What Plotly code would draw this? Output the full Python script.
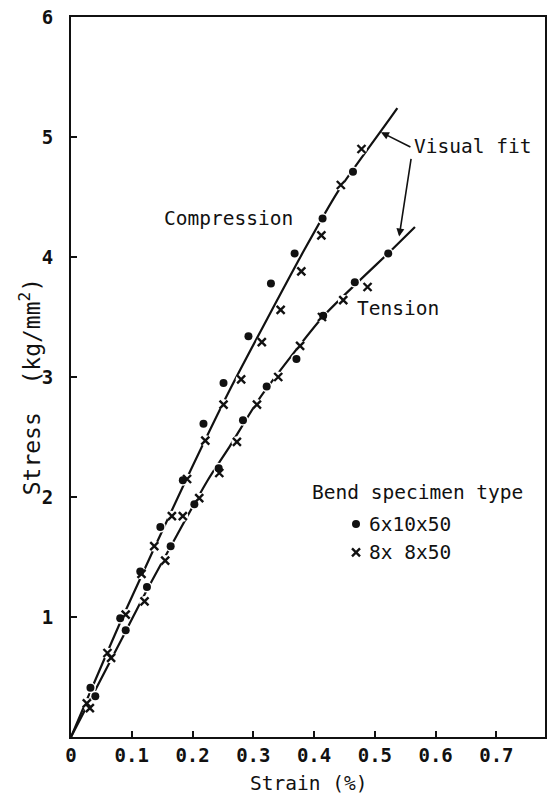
import plotly.graph_objects as go

# ---- Measured data: strain (%) vs stress (kg/mm^2) ----
# 6x10x50 bend specimens (dots)
dot_comp_strain = [0.032, 0.081, 0.114, 0.147, 0.184, 0.218, 0.251, 0.292, 0.329, 0.368, 0.414, 0.464]
dot_comp_stress = [0.41, 0.99, 1.38, 1.75, 2.14, 2.61, 2.95, 3.34, 3.78, 4.03, 4.32, 4.71]
dot_tens_strain = [0.040, 0.090, 0.125, 0.164, 0.203, 0.243, 0.283, 0.322, 0.371, 0.415, 0.467, 0.522]
dot_tens_stress = [0.34, 0.89, 1.25, 1.59, 1.94, 2.24, 2.64, 2.92, 3.15, 3.51, 3.79, 4.03]

# 8x8x50 bend specimens (crosses)
x_comp_strain = [0.026, 0.060, 0.090, 0.116, 0.137, 0.166, 0.191, 0.221, 0.251, 0.280, 0.314, 0.345, 0.379, 0.412, 0.444, 0.478]
x_comp_stress = [0.28, 0.70, 1.02, 1.36, 1.59, 1.84, 2.15, 2.47, 2.77, 2.98, 3.29, 3.56, 3.88, 4.18, 4.60, 4.90]
x_tens_strain = [0.031, 0.066, 0.121, 0.155, 0.184, 0.211, 0.244, 0.273, 0.306, 0.341, 0.377, 0.413, 0.448, 0.488]
x_tens_stress = [0.24, 0.66, 1.13, 1.47, 1.84, 1.99, 2.20, 2.46, 2.77, 3.00, 3.26, 3.50, 3.64, 3.75]

# Visual-fit curves
comp_fit_strain = [0.0, 0.085, 0.19, 0.261, 0.384, 0.441, 0.523, 0.537]
comp_fit_stress = [0.0, 1.00, 2.15, 2.89, 4.06, 4.56, 5.14, 5.24]
tens_fit_strain = [0.0, 0.091, 0.125, 0.225, 0.261, 0.31, 0.416, 0.528, 0.566]
tens_fit_stress = [0.0, 0.89, 1.225, 2.14, 2.42, 2.82, 3.51, 4.06, 4.25]

x_tick_vals = [0, 0.1, 0.2, 0.3, 0.4, 0.5, 0.6, 0.7]
x_tick_text = ["0", "0.1", "0.2", "0.3", "0.4", "0.5", "0.6", "0.7"]
y_tick_vals = [1, 2, 3, 4, 5, 6]
y_tick_text = ["1", "2", "3", "4", "5", "6"]

FONT = "DejaVu Sans Mono"
INK = "#111111"

fig = go.Figure()

# fitted curves
for xs, ys in [(comp_fit_strain, comp_fit_stress), (tens_fit_strain, tens_fit_stress)]:
    fig.add_trace(go.Scatter(x=xs, y=ys, mode="lines",
                             line=dict(color=INK, width=2.2, shape="spline", smoothing=0.6),
                             hoverinfo="skip", showlegend=False))

all_x = dot_comp_strain + dot_tens_strain + x_comp_strain + x_tens_strain
all_y = dot_comp_stress + dot_tens_stress + x_comp_stress + x_tens_stress

# white halos break the curves around each point
fig.add_trace(go.Scatter(x=all_x, y=all_y, mode="markers",
                         marker=dict(symbol="circle", size=11, color="white", line=dict(width=0)),
                         hoverinfo="skip", showlegend=False))

# dots
fig.add_trace(go.Scatter(x=dot_comp_strain + dot_tens_strain,
                         y=dot_comp_stress + dot_tens_stress,
                         mode="markers", name="6x10x50",
                         marker=dict(symbol="circle", size=8, color=INK, line=dict(width=0)),
                         showlegend=False))
# crosses
fig.add_trace(go.Scatter(x=x_comp_strain + x_tens_strain,
                         y=x_comp_stress + x_tens_stress,
                         mode="markers", name="8x 8x50",
                         marker=dict(symbol="x-thin-open", size=8, color=INK,
                                     line=dict(width=2.4, color=INK)),
                         showlegend=False))

# key markers
fig.add_trace(go.Scatter(x=[0.469], y=[1.775], mode="markers",
                         marker=dict(symbol="circle", size=8, color=INK),
                         hoverinfo="skip", showlegend=False))
fig.add_trace(go.Scatter(x=[0.469], y=[1.539], mode="markers",
                         marker=dict(symbol="x-thin-open", size=8, color=INK,
                                     line=dict(width=2.4, color=INK)),
                         hoverinfo="skip", showlegend=False))

tfont = dict(family=FONT, size=19.5, color=INK)
annotations = [
    dict(x=0.259, y=4.32, text="Compression", xanchor="center", yanchor="middle"),
    dict(x=0.467, y=3.575, text="Tension", xanchor="left", yanchor="middle"),
    dict(x=0.561, y=4.92, text="Visual fit", xanchor="left", yanchor="middle"),
    dict(x=0.393, y=2.036, text="Bend specimen type", xanchor="left", yanchor="middle"),
    dict(x=0.487, y=1.775, text="6x10x50", xanchor="left", yanchor="middle"),
    dict(x=0.487, y=1.539, text="8x 8x50", xanchor="left", yanchor="middle"),
]
for a in annotations:
    fig.add_annotation(xref="x", yref="y", showarrow=False, font=tfont, **a)

# leader arrows from the label to both curves
fig.add_annotation(x=0.510, y=5.04, ax=0.561, ay=4.91, xref="x", yref="y",
                   axref="x", ayref="y", text="", showarrow=True,
                   arrowhead=2, arrowsize=1, arrowwidth=1.6, arrowcolor=INK)
fig.add_annotation(x=0.540, y=4.17, ax=0.560, ay=4.83, xref="x", yref="y",
                   axref="x", ayref="y", text="", showarrow=True,
                   arrowhead=2, arrowsize=1, arrowwidth=1.6, arrowcolor=INK)

# axis titles
fig.add_annotation(xref="paper", yref="paper", x=0.5, y=-0.064, text="Strain (%)",
                   showarrow=False, font=tfont, xanchor="center", yanchor="middle")
fig.add_annotation(xref="paper", yref="paper", x=-0.086, y=0.486,
                   text="Stress  (kg/mm<sup>2</sup>)", textangle=-90,
                   showarrow=False, font=dict(family=FONT, size=23, color=INK),
                   xanchor="center", yanchor="middle")

axis_common = dict(showline=True, linewidth=2, linecolor=INK, mirror=True,
                   ticks="inside", ticklen=6, tickwidth=1.5, tickcolor=INK,
                   showgrid=False, zeroline=False,
                   tickfont=dict(family=FONT, size=19, color=INK, weight="bold"))

fig.update_layout(
    width=552, height=797,
    margin=dict(l=71, r=5, t=17, b=60),
    paper_bgcolor="white", plot_bgcolor="white",
    xaxis=dict(range=[0, 0.78], tickvals=x_tick_vals, ticktext=x_tick_text,
               ticklabelstandoff=0, **axis_common),
    yaxis=dict(range=[0, 6], tickvals=y_tick_vals, ticktext=y_tick_text,
               ticklabelstandoff=12, **axis_common),
    showlegend=False,
)

fig.write_html("out.html")
